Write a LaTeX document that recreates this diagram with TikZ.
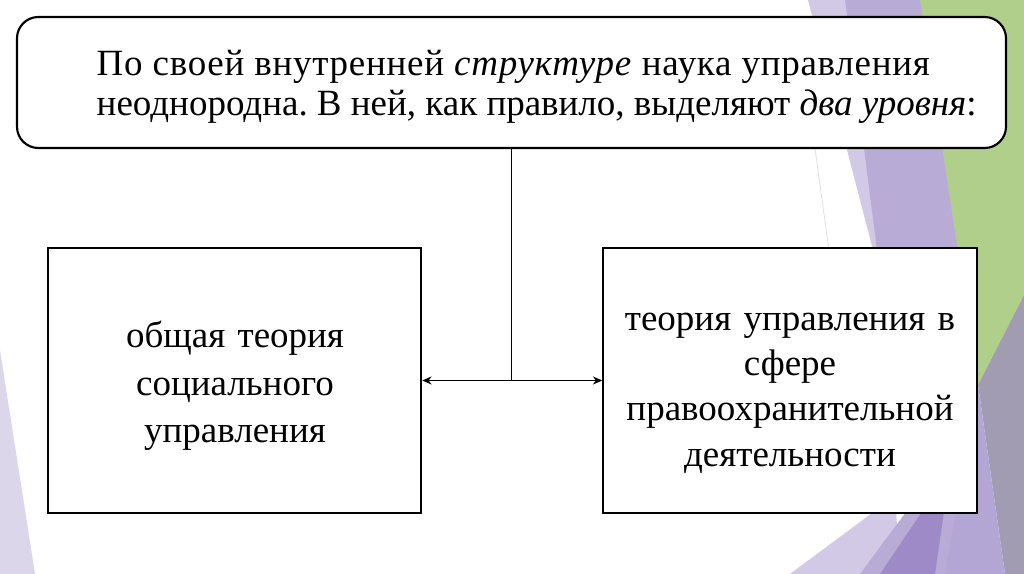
\documentclass[tikz,border=0pt]{standalone}
\usepackage{fontspec}
\setmainfont{Liberation Serif}
\frenchspacing
\usetikzlibrary{arrows.meta}
\definecolor{lavlight}{HTML}{D2C9E6}
\definecolor{lavmid}{HTML}{B8ABD6}
\definecolor{lavdark}{HTML}{9F8AC8}
\definecolor{facetgreen}{HTML}{B0CF8A}
\definecolor{facetgray}{HTML}{A29CB3}
\definecolor{lavpale}{HTML}{DCD6EB}
\tikzset{
  topbox/.style={draw=black, line width=1.6pt, fill=white, rounded corners=16pt},
  levelbox/.style={draw=black, line width=1.6pt, fill=white, minimum width=280pt, minimum height=198.75pt},
  boxtext/.style={align=center, text width=270pt},
  link/.style={draw=black, line width=1.3pt},
  facet/.style={draw=none}
}
\begin{document}
\begin{tikzpicture}[x=0.75pt,y=-0.75pt]
\useasboundingbox (0,0) rectangle (1024,574);
\fill[white] (0,0) rectangle (1024,574);
% background facets
\fill[lavpale] (0,350) -- (35,574) -- (0,574) -- cycle;
\fill[lavlight] (808,0) -- (850,0) -- (880,255) -- (900,574) -- (790,574) -- (930,470) -- (873,250) -- cycle;
\fill[lavmid] (845,0) -- (922,0) -- (978,385) -- (960,574) -- (860,574) -- (915,500) -- (877,250) -- cycle;
\fill[lavdark] (880,574) -- (935,574) -- (950,470) -- cycle;
\fill[facetgreen] (920,0) -- (1024,0) -- (1024,295) -- (978,385) -- cycle;
\fill[facetgray] (1024,295) -- (978,385) -- (1005,574) -- (1024,574) -- cycle;
\fill[lavmid!85!lavdark] (978,385) -- (1005,574) -- (945,574) -- cycle;
\draw[black!12, line width=0.6pt] (800,40) -- (840,330);
% diagram
\node[topbox, minimum width=741.75pt, minimum height=98.25pt] (top) at (511.5,82.5) {};
\node[anchor=west, align=left, font=\fontsize{27.75}{30}\selectfont] (toptext) at (92,87)
  {{\addfontfeature{LetterSpace=2.0}По своей внутренней \textit{структуре} наука управления}\\
   неоднородна. В ней, как правило, выделяют \textit{два уровня}:};
\node[levelbox] (left) at (234.5,380.5) {};
\node[levelbox] (right) at (790,380.5) {};
\node[boxtext, font=\fontsize{27.75}{35.6}\selectfont] (lefttext) at (235,386) {общая теория\\социального\\управления};
\node[boxtext, font=\fontsize{27.75}{34}\selectfont] (righttext) at (790,393) {теория управления в\\сфере\\правоохранительной\\деятельности};
\coordinate (j) at (top.south |- left.east);
\draw[link] (top.south) -- (j);
\draw[link, {Stealth[length=7pt,width=6pt]}-{Stealth[length=7pt,width=6pt]}] (left.east) -- (right.west);
\end{tikzpicture}
\end{document}
